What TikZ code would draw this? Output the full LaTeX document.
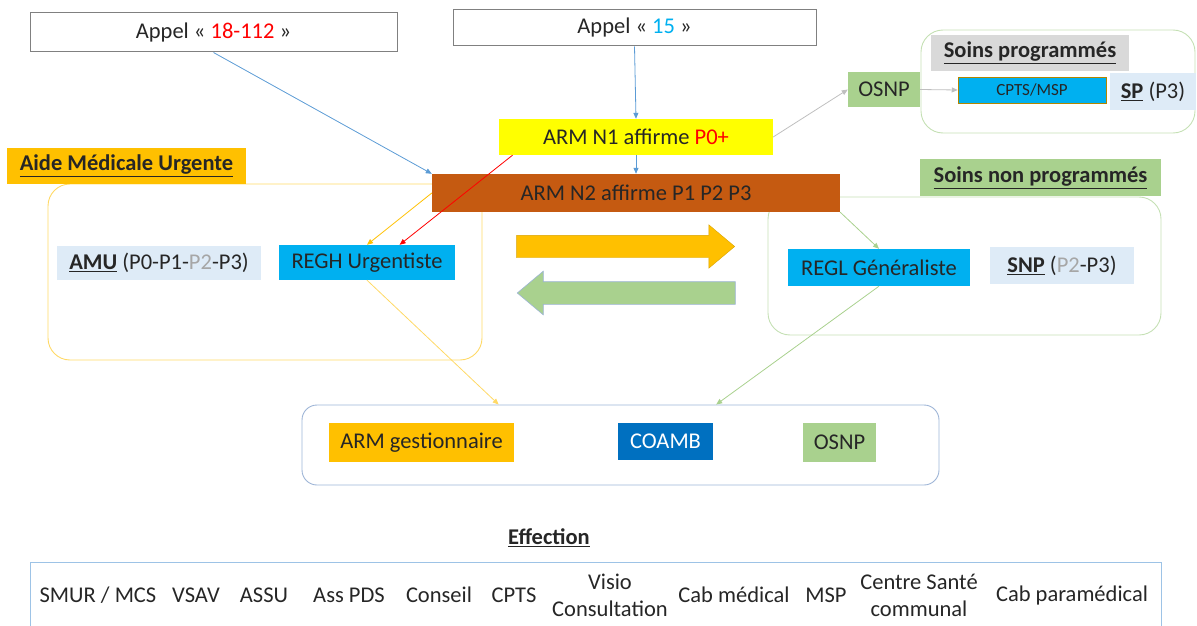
\documentclass[tikz,border=0pt]{standalone}
\usepackage{fontspec}
\setmainfont{Carlito}
\usetikzlibrary{arrows.meta, calc, positioning, shapes.arrows}
\definecolor{ink}{HTML}{262626}
\definecolor{amuorange}{HTML}{FFC000}
\definecolor{amuline}{HTML}{FFD966}
\definecolor{armbrown}{HTML}{C55A11}
\definecolor{armyellow}{HTML}{FFFF00}
\definecolor{snpgreen}{HTML}{A9D18E}
\definecolor{snpline}{HTML}{C5E0B4}
\definecolor{regcyan}{HTML}{00B0F0}
\definecolor{paleblue}{HTML}{DEEBF7}
\definecolor{spgray}{HTML}{D9D9D9}
\definecolor{coblue}{HTML}{0070C0}
\definecolor{callblue}{HTML}{5B9BD5}
\definecolor{poolline}{HTML}{9DB4D6}
\definecolor{effline}{HTML}{9DC3E6}
\definecolor{dimgray}{HTML}{A6A6A6}
\newcommand{\ulbf}[1]{\underline{\textbf{#1}}}

\begin{document}
\begin{tikzpicture}[x=1pt, y=-1pt,
  font=\fontsize{22.5}{26}\selectfont, text=ink,
  tag/.style={inner sep=0pt},
  frame/.style={draw=#1, line width=0.9pt, rounded corners=22pt, inner sep=0pt},
  link/.style={draw=#1, line width=0.8pt, -{Triangle[length=6pt, width=5pt]}},
  swap/.style={single arrow, inner xsep=0pt, inner ysep=11pt, minimum width=43pt, minimum height=218pt,
    single arrow head extend=10.5pt, single arrow tip angle=80}]
\useasboundingbox (0,0) rectangle (1197,626);

% Containers
\node[frame=amuline, minimum width=434pt, minimum height=176pt] (amubox) at (265,272) {};
\node[frame=snpline, minimum width=393pt, minimum height=138pt] (snpbox) at (964.5,266) {};
\node[frame=snpline, minimum width=274pt, minimum height=103pt] (spbox) at (1058,81.5) {};
\node[frame=poolline, rounded corners=15pt, minimum width=637pt, minimum height=80pt] (pool) at (620.5,445) {};

% Calls and ARM
\node[tag, draw=gray, line width=1pt, minimum width=367pt, minimum height=39pt] (app18) at (213.5,32.5) {Appel « \textcolor{red}{18-112} »};
\node[tag, draw=gray, line width=1pt, minimum width=363pt, minimum height=36pt] (app15) at (634.5,28) {Appel « \textcolor{regcyan}{15} »};
\node[tag, fill=armyellow, minimum width=274pt, minimum height=36pt] (arm1) at (636,137) {ARM N1 affirme \textcolor{red}{P0+}};
\node[tag, fill=armbrown, minimum width=408pt, minimum height=38pt] (arm2) at (636,193) {ARM N2 affirme P1 P2 P3};

% Soins programmes
\node[tag, fill=spgray, minimum width=198pt, minimum height=36pt] (splabel) at (1030,53) {\ulbf{Soins programmés}};
\node[tag, fill=snpgreen, minimum width=72pt, minimum height=35pt] (osnp1) at (884,89.5) {OSNP};
\node[tag, fill=regcyan, draw=amuorange!70!black, line width=0.5pt, minimum width=148pt, minimum height=26pt, font=\fontsize{17}{19}\selectfont] (cpts) at (1032,90) {CPTS/MSP};
\node[tag, fill=paleblue, minimum width=86pt, minimum height=37pt] (sp) at (1153,91.5) {\ulbf{SP} (P3)};

% Aide Medicale Urgente
\node[tag, fill=amuorange, minimum width=239pt, minimum height=36pt] (amulabel) at (126.5,166) {\ulbf{Aide Médicale Urgente}};
\node[tag, fill=paleblue, minimum width=204pt, minimum height=34pt] (amu) at (159,263) {\ulbf{AMU} (P0-P1-\textcolor{dimgray}{P2}-P3)};
\node[tag, fill=regcyan, minimum width=176pt, minimum height=35pt] (regh) at (367,262.5) {REGH Urgentiste};

% Soins non programmes
\node[tag, fill=snpgreen, minimum width=241pt, minimum height=37pt] (snplabel) at (1040.5,177.5) {\ulbf{Soins non programmés}};
\node[tag, fill=regcyan, minimum width=182pt, minimum height=37pt] (regl) at (879,267.5) {REGL Généraliste};
\node[tag, fill=paleblue, minimum width=144pt, minimum height=37pt] (snp) at (1062,265.5) {\ulbf{SNP} (\textcolor{dimgray}{P2}-P3)};

% Exchange arrows
\node[swap, fill=amuorange, draw=amuorange!85!black, line width=0.4pt] (fwd) at (619,246.5) {};
\node[swap, shape border rotate=180, fill=snpgreen, draw=poolline, line width=0.6pt] (back) at (633,293) {};

% Pool
\node[tag, fill=amuorange, minimum width=185pt, minimum height=39pt] (armg) at (421.5,442.5) {ARM gestionnaire};
\node[tag, fill=coblue, text=white, minimum width=95pt, minimum height=37pt] (coamb) at (665.5,441.5) {COAMB};
\node[tag, fill=snpgreen, minimum width=73pt, minimum height=39pt] (osnp2) at (839.5,442.5) {OSNP};

% Connectors
\draw[link=callblue] (app18.south) -- (arm2.north west);
\draw[link=callblue] (app15.south) -- (arm1.north);
\draw[link=callblue] (arm1.south) -- (arm2.north);
\draw[link=gray!50] (arm1.east) -- (osnp1.west);
\draw[link=gray!50] (osnp1.east) -- (cpts.west);
\draw[link=amuorange] (arm2.west) -- (regh.north);
\draw[link=red] ($(arm1.south west)!0.05!(arm1.south east)$) -- ($(regh.north)!0.37!(regh.north east)$);
\draw[link=snpgreen] (arm2.south east) -- (regl.north);
\draw[link=amuline] (regh.south) -- ($(pool.north west)!0.309!(pool.north east)$);
\draw[link=snpgreen] (regl.south) -- ($(pool.north west)!0.65!(pool.north east)$);

% Effection
\node[tag] (efftitle) at (549,538) {\ulbf{Effection}};
\draw[effline, line width=1pt] (30,632) -- (30,562) -- (1161,562) -- (1161,632);
\foreach \x/\what [count=\i] in {98/{SMUR / MCS}, 196/VSAV, 264/ASSU, 349/{Ass PDS}, 439/Conseil, 514/CPTS,
  610/{Visio\\Consultation}, 734/{Cab médical}, 826/MSP, 919/{Centre Santé\\communal}, 1072/{Cab paramédical}}
  \node[tag, align=center, font=\fontsize{22.5}{27}\selectfont] (eff\i) at (\x,595) {\what};
\end{tikzpicture}
\end{document}
